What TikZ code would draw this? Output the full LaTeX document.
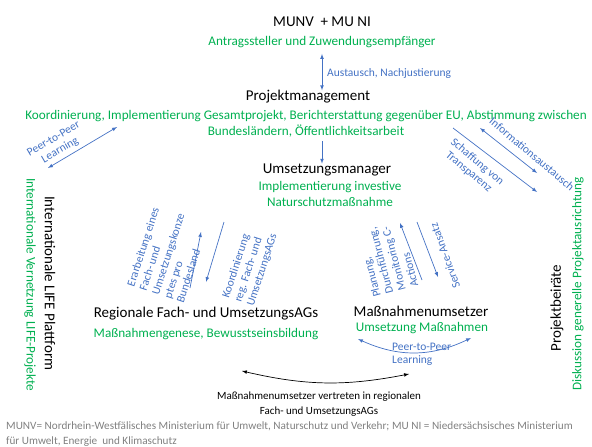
\documentclass[tikz,border=0pt]{standalone}
\usepackage{fontspec}
\setmainfont{Carlito}
\usetikzlibrary{arrows}
\definecolor{lgreen}{RGB}{0,176,80}
\definecolor{lblue}{RGB}{68,114,196}
\definecolor{lgray}{RGB}{128,128,128}

\begin{document}
\begin{tikzpicture}[x=1pt,y=-1pt,>=latex]
  \tikzstyle{title}=[inner sep=0pt,text=black,font=\fontsize{15}{17}\selectfont]
  \tikzstyle{task}=[inner sep=0pt,align=center,text=lgreen,font=\fontsize{13.2}{16.5}\selectfont]
  \tikzstyle{lbl}=[inner sep=0pt,text=lblue,font=\fontsize{11.5}{13}\selectfont]
  \tikzstyle{link}=[draw=lblue,line width=0.7pt]
  \useasboundingbox (0,0) rectangle (592,447);

  % Ministerien und Projektmanagement
  \node[title] (munv)   at (322,22)  {MUNV\ \ + MU NI};
  \node[task]  (antrag) at (322,42)  {Antragssteller und Zuwendungsempfänger};
  \node[title] (pm)     at (308,97)  {Projektmanagement};
  \node[task]  (pmtask) at (306,124) {Koordinierung,\ Implementierung Gesamtprojekt, Berichterstattung gegenüber\ EU, Abstimmung zwischen\\Bundesländern,\ Öffentlichkeitsarbeit};
  \node[title] (um)     at (327,170) {Umsetzungsmanager};
  \node[task]  (umtask) at (330,194) {Implementierung investive\\Naturschutzmaßnahme};

  % seitliche Akteure
  \node[title,rotate=-90,anchor=west] (life)     at (50,196)  {Internationale LIFE Plattform};
  \node[task,rotate=-90,anchor=west]  (lifetask) at (30,178)  {Internationale Vernetzung\ LIFE-Projekte};
  \node[title,rotate=90]              (beirat)     at (557,308) {Projektbeiräte};
  \node[task,rotate=90]               (beirattask) at (578,284) {Diskussion\ generelle Projektausrichtung};

  % untere Ebene
  \node[title] (ag)     at (206,314) {Regionale Fach- und UmsetzungsAGs};
  \node[task]  (agtask) at (206,334) {Maßnahmengenese,\ Bewusstseinsbildung};
  \node[title] (mu)     at (421,311) {Maßnahmenumsetzer};
  \node[task]  (mutask) at (422,328) {Umsetzung Maßnahmen};

  % Austausch oben
  \draw[link,<->] (antrag.south) ++(0,6) coordinate (a1) -- (a1 |- pm.north) coordinate (a2);
  \node[lbl,anchor=west] (austausch) at (327,73) {Austausch, Nachjustierung};
  \draw[link,->] (pmtask.south -| a1) ++(0,3) -- (um.north -| a1);

  % Peer-to-Peer mit LIFE Plattform
  \coordinate (p1) at (48,168);
  \coordinate (p2) at (117,127);
  \draw[link,<->] (p1) -- (p2);
  \node[lbl,rotate=30,align=center] (peerlife) at (57,145) {Peer-to-Peer\\Learning};

  % Projektbeiraete
  \coordinate (i1) at (480,128);
  \coordinate (i2) at (537,173);
  \coordinate (s1) at (453,128);
  \coordinate (s2) at (537,192);
  \draw[link,<->] (i1) -- (i2);
  \draw[link,->] (s1) -- (s2);
  \node[lbl,rotate=-40] (info) at (532,154) {Informationsaustausch};
  \node[lbl,rotate=-40,align=center] (transp) at (473,167) {Schaffung von\\Transparenz};

  % Umsetzungsmanager <-> AGs
  \coordinate (k1) at (190,288);
  \coordinate (k2) at (201,232);
  \coordinate (k3) at (224,222);
  \coordinate (k4) at (206,282);
  \draw[link,->] (k1) -- (k2);
  \draw[link,->] (k3) -- (k4);
  \node[lbl,rotate=72,align=left] (konzept) at (168,254) {Erarbeitung eines\\Fach-\ und\\Umsetzungskonze\\ptes pro\\Bundesland};
  \node[lbl,rotate=72,align=left] (koord) at (250,266) {Koordinierung\\reg. Fach-\ und\\UmsetzungsAGs};

  % Umsetzungsmanager <-> Massnahmenumsetzer
  \coordinate (m1) at (422,280);
  \coordinate (m2) at (400,223);
  \coordinate (m3) at (417,222);
  \coordinate (m4) at (438,277);
  \draw[link,->] (m1) -- (m2);
  \draw[link,->] (m3) -- (m4);
  \node[lbl,rotate=105,align=left] (planung) at (387,259) {Planung,\\Durchführung,\\Monitoring C-\\Actions};
  \node[lbl,rotate=110] (service) at (445,256) {Service-Ansatz};

  % Peer-to-Peer unter den Massnahmenumsetzern
  \coordinate (g1) at (358,339);
  \coordinate (g2) at (471,338);
  \draw[link,<->] (g1) to[bend right=25] (g2);
  \node[lbl,align=left,anchor=north west] (peermu) at (392,343) {Peer-to-Peer\\Learning};

  % Vertretung in den AGs
  \coordinate (h1) at (242,371);
  \coordinate (h2) at (409,374);
  \draw[line width=0.7pt,<->] (h1) to[bend right=12] (h2);
  \node[inner sep=0pt,align=center,font=\fontsize{11}{14.5}\selectfont] (vertr) at (319,404) {Maßnahmenumsetzer vertreten in regionalen\\Fach- und UmsetzungsAGs};

  % Legende
  \node[inner sep=0pt,anchor=north west,align=left,text=lgray,font=\fontsize{11.2}{15}\selectfont] (legende) at (6,422) {MUNV= Nordrhein-Westfälisches Ministerium für Umwelt, Naturschutz und Verkehr; MU NI = Niedersächsisches Ministerium\\für Umwelt, Energie\ \ und Klimaschutz};
\end{tikzpicture}
\end{document}
